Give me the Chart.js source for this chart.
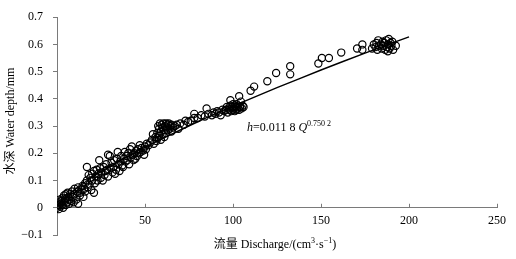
<!DOCTYPE html>
<html>
<head>
<meta charset="utf-8">
<script src="https://cdn.jsdelivr.net/npm/chart.js@4/dist/chart.umd.min.js"></script>
<style>
  html, body { margin: 0; padding: 0; background: #fff; }
</style>
</head>
<body>
<canvas id="chart" width="516" height="259"></canvas>
<script>
// Observed points: discharge (cm3/s) and water depth (mm)
const discharge = [
    0, 0.5, 1, 1, 1.5, 2, 2, 2.5, 3, 3, 3.5, 4, 4, 4.5, 5, 5, 5.5, 6, 6, 6.5, 7, 7, 7.5, 8, 8.5, 9, 9.5, 10, 10,
    11, 11.5, 12, 12, 13, 13, 14, 14.5, 15, 15.5, 16, 16, 17, 17, 17.5, 18, 18.5, 19, 19.5, 20, 20, 21, 21, 21.5, 22, 22.5, 23, 23.5, 24, 24.5, 25, 25,
    26, 26.5, 27, 27.5, 28, 28.5, 29, 29, 30, 30.5, 31, 31.5, 32, 32.5, 33, 33.5, 34, 34.5, 35, 35.5, 36, 36.5, 37, 37.5, 38, 38.5, 39, 39.5, 40, 40.5,
    41, 41.5, 42, 42.5, 43, 43.5, 44, 44.5, 45, 45.5, 46, 46.5, 47, 47.5, 48, 49, 49.5, 50, 50.5, 51, 52, 53, 54, 54.5, 55,
    56, 56.5, 57, 57, 57.5, 58, 58, 58.5, 59, 59, 59.5, 60, 60, 60.5, 61, 61, 61.5, 62, 62, 62.5, 63, 63, 63.5, 64, 64.5, 65, 65,
    66, 67, 68, 69, 70, 72, 73, 74.5, 76, 78, 78, 80, 82, 84, 85, 86, 88, 89, 90, 91, 92, 93, 94, 95,
    96, 96.5, 97, 97.5, 98, 98.5, 98.5, 99, 99.5, 100, 100, 100.5, 101, 101, 101.5, 102, 102, 102.5, 103, 103.5, 103.5, 104, 104.5, 105, 105.5, 106, 110, 112,
    119.5, 124.5, 132.5, 132.5, 148.5, 150.5, 154.5, 161.5, 170.5, 173.5, 173.5,
    179, 180, 181, 181.5, 182, 182.5, 183, 184, 184.5, 185, 185.5, 186, 186.5, 187, 187.5, 188, 188.5, 189, 189.5, 190, 190.5, 191, 192.5, 188
];
const depth = [
    0, 0.01, 0.02, -0.005, 0.03, 0.005, 0.015, 0.025, 0.01, 0.035, 0, 0.02, 0.045, 0.03, 0.01, 0.05, 0.035, 0.02, 0.055, 0.04, 0.015, 0.03, 0.05, 0.025, 0.06, 0.04, 0.02, 0.05, 0.07,
    0.03, 0.06, 0.015, 0.075, 0.045, 0.055, 0.065, 0.08, 0.04, 0.07, 0.09, 0.06, 0.15, 0.1, 0.075, 0.12, 0.085, 0.11, 0.065, 0.1, 0.125, 0.135, 0.055, 0.09, 0.115, 0.14, 0.1, 0.125, 0.175, 0.145, 0.11, 0.13,
    0.1, 0.15, 0.12, 0.135, 0.16, 0.14, 0.195, 0.115, 0.19, 0.145, 0.165, 0.13, 0.15, 0.175, 0.125, 0.14, 0.18, 0.205, 0.16, 0.135, 0.17, 0.19, 0.155, 0.15, 0.18, 0.205, 0.17, 0.19, 0.175, 0.2,
    0.16, 0.215, 0.185, 0.225, 0.195, 0.175, 0.2, 0.18, 0.21, 0.19, 0.215, 0.2, 0.23, 0.205, 0.22, 0.21, 0.195, 0.225, 0.215, 0.235, 0.23, 0.24, 0.25, 0.27, 0.235,
    0.26, 0.245, 0.255, 0.275, 0.3, 0.265, 0.29, 0.31, 0.25, 0.28, 0.305, 0.27, 0.295, 0.31, 0.26, 0.285, 0.3, 0.275, 0.31, 0.295, 0.285, 0.305, 0.31, 0.29, 0.3, 0.305, 0.28,
    0.295, 0.3, 0.305, 0.29, 0.31, 0.305, 0.32, 0.315, 0.32, 0.33, 0.345, 0.33, 0.34, 0.335, 0.365, 0.345, 0.34, 0.35, 0.345, 0.355, 0.35, 0.34, 0.36, 0.355,
    0.36, 0.37, 0.35, 0.365, 0.36, 0.375, 0.395, 0.355, 0.37, 0.36, 0.38, 0.365, 0.355, 0.375, 0.37, 0.36, 0.38, 0.365, 0.375, 0.41, 0.36, 0.37, 0.39, 0.365, 0.375, 0.37, 0.43, 0.445,
    0.465, 0.495, 0.52, 0.49, 0.53, 0.55, 0.55, 0.57, 0.585, 0.6, 0.58,
    0.585, 0.6, 0.59, 0.605, 0.58, 0.615, 0.595, 0.6, 0.585, 0.61, 0.595, 0.605, 0.58, 0.615, 0.59, 0.6, 0.62, 0.585, 0.605, 0.595, 0.61, 0.58, 0.595, 0.575
];

// Fitted curve h = 0.0118 Q^0.7502
const fitDischarge = [1, 2, 5, 10, 20, 30, 40, 50, 60, 80, 100, 125, 150, 175, 200];
const fitDepth = [0.012, 0.020, 0.040, 0.066, 0.112, 0.151, 0.188, 0.222, 0.254, 0.316, 0.373, 0.441, 0.506, 0.568, 0.628];

const xTicks = [0, 50, 100, 150, 200, 250];
const yTicks = [-0.1, 0, 0.1, 0.2, 0.3, 0.4, 0.5, 0.6, 0.7];

const SERIF = "'Liberation Serif', 'Noto Sans CJK SC', serif";
const AXIS_COLOR = '#7a7a7a';

// dibuja un texto formado por trozos (cursiva / superíndice)
function drawRuns(ctx, runs, x, y, align) {
    const fontOf = r => `${r.it ? 'italic ' : ''}${r.sup ? 8 : 12}px ${SERIF}`;
    let total = 0;
    runs.forEach(r => { ctx.font = fontOf(r); total += ctx.measureText(r.t).width; });
    let cx = align === 'center' ? x - total / 2 : x;
    ctx.textBaseline = 'alphabetic';
    ctx.textAlign = 'left';
    runs.forEach(r => {
        ctx.font = fontOf(r);
        ctx.fillText(r.t, cx, r.sup ? y - 5 : y);
        cx += ctx.measureText(r.t).width;
    });
}

const decorations = {
    id: 'decorations',
    afterDraw(chart) {
        const ctx = chart.ctx;
        const xs = chart.scales.x;
        const ys = chart.scales.y;
        const y0 = ys.getPixelForValue(0);
        ctx.save();
        ctx.strokeStyle = AXIS_COLOR;
        ctx.lineWidth = 1;
        // marcas del eje x hacia arriba
        xTicks.forEach(v => {
            if (v === 0) return;
            const px = Math.round(xs.getPixelForValue(v)) + 0.5;
            ctx.beginPath();
            ctx.moveTo(px, y0);
            ctx.lineTo(px, y0 - 4);
            ctx.stroke();
        });
        ctx.fillStyle = '#000';
        // ecuación
        drawRuns(ctx, [
            { t: 'h', it: true }, { t: '=0.011 8 ' }, { t: 'Q', it: true }, { t: '0.750 2', sup: true }
        ], xs.getPixelForValue(108), ys.getPixelForValue(0.281), 'left');
        // título eje x
        drawRuns(ctx, [
            { t: '流量 Discharge/(cm' }, { t: '3', sup: true }, { t: '·s' }, { t: '−1', sup: true }, { t: ')' }
        ], (chart.chartArea.left + chart.chartArea.right) / 2 - 2, 248, 'center');
        // título eje y
        ctx.translate(14, (chart.chartArea.top + chart.chartArea.bottom) / 2 - 5);
        ctx.rotate(-Math.PI / 2);
        drawRuns(ctx, [{ t: '水深 Water depth/mm' }], 0, 0, 'center');
        ctx.restore();
    }
};

function fmtY(v) {
    const r = Math.round(v * 10) / 10;
    if (r === 0) return '0';
    return (r < 0 ? '−' : '') + Math.abs(r).toFixed(1);
}

new Chart(document.getElementById('chart'), {
    type: 'scatter',
    data: {
        datasets: [
            {
                label: 'observed',
                data: discharge.map((q, i) => ({ x: q, y: depth[i] })),
                pointStyle: 'circle',
                pointRadius: 3.6,
                borderColor: '#000',
                borderWidth: 1.2,
                backgroundColor: 'rgba(0,0,0,0)',
                order: 2
            },
            {
                label: 'fit',
                data: fitDischarge.map((q, i) => ({ x: q, y: fitDepth[i] })),
                showLine: true,
                borderColor: '#000',
                borderWidth: 1.4,
                pointRadius: 0,
                tension: 0.3,
                fill: false,
                order: 1
            }
        ]
    },
    options: {
        responsive: false,
        animation: false,
        devicePixelRatio: 1,
        layout: { padding: { left: 0, top: 13, right: 19, bottom: 24 } },
        plugins: { legend: { display: false }, tooltip: { enabled: false } },
        scales: {
            x: {
                type: 'linear',
                position: { y: 0 },
                min: 0,
                max: 250,
                afterBuildTicks: s => { s.ticks = xTicks.map(v => ({ value: v })); },
                ticks: {
                    font: { family: SERIF, size: 12 },
                    color: '#000',
                    padding: 6,
                    maxRotation: 0,
                    callback: v => (v === 0 ? '' : String(v))
                },
                grid: { display: true, drawOnChartArea: false, drawTicks: false },
                border: { display: true, color: AXIS_COLOR, width: 1 }
            },
            y: {
                type: 'linear',
                position: 'left',
                min: -0.1,
                max: 0.7,
                afterBuildTicks: s => { s.ticks = yTicks.map(v => ({ value: v })); },
                afterFit: s => { s.width = 57; },
                ticks: {
                    font: { family: SERIF, size: 12 },
                    color: '#000',
                    padding: 10,
                    callback: v => fmtY(v)
                },
                grid: { display: true, drawOnChartArea: false, drawTicks: true, tickLength: 4, color: AXIS_COLOR },
                border: { display: true, color: AXIS_COLOR, width: 1 }
            }
        }
    },
    plugins: [decorations]
});
</script>
</body>
</html>
